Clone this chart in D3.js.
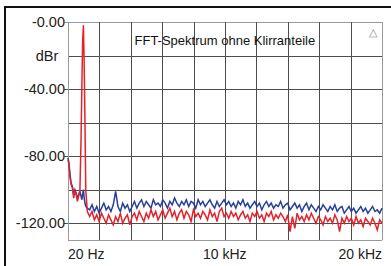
<!DOCTYPE html>
<html>
<head>
<meta charset="utf-8">
<script src="https://cdn.jsdelivr.net/npm/d3@7"></script>
<style>
  html, body { margin: 0; background: #fff; overflow: hidden; }
  svg { display: block; overflow: hidden; }
  text { font-family: "Liberation Sans", Arial, sans-serif; }
</style>
</head>
<body>
<div id="fft"></div>
<script>
// frequency points (Hz), shared by both channels
var freqHz = [20, 80, 150, 220, 300, 380, 460, 540, 620, 700, 780, 850, 900, 950, 1000, 1050, 1100, 1150, 1250,
  1400, 1550, 1700, 1850, 2000, 2150, 2300, 2450, 2600, 2750,
  2900, 3050, 3200, 3350, 3500, 3650, 3800, 3950, 4100, 4250,
  4400, 4550, 4700, 4850, 5000, 5150, 5300, 5450, 5600, 5750,
  5900, 6050, 6200, 6350, 6500, 6650, 6800, 6950, 7100, 7250,
  7400, 7550, 7700, 7850, 8000, 8150, 8300, 8450, 8600, 8750,
  8900, 9050, 9200, 9350, 9500, 9650, 9800, 9950, 10100, 10250,
  10400, 10550, 10700, 10850, 11000, 11150, 11300, 11450, 11600, 11750,
  11900, 12050, 12200, 12350, 12500, 12650, 12800, 12950, 13100, 13250,
  13400, 13550, 13700, 13850, 14000, 14150, 14300, 14450, 14600, 14750,
  14900, 15050, 15200, 15350, 15500, 15650, 15800, 15950, 16100, 16250,
  16400, 16550, 16700, 16850, 17000, 17150, 17300, 17450, 17600, 17750,
  17900, 18050, 18200, 18350, 18500, 18650, 18800, 18950, 19100, 19250,
  19400, 19550, 19700, 19850, 20000];

// blue channel (dBr)
var blueDb = [-81, -84, -91, -96, -98, -103, -100, -102, -105, -103, -101, -104, -106, -103, -100, -105, -108, -110, -111,
  -112, -109, -113, -110, -114, -111, -108, -112, -110, -113,
  -109, -101, -110, -113, -108, -111, -109, -113, -110, -107,
  -111, -108, -106, -110, -107, -109, -111, -106, -109, -108,
  -110, -106, -108, -111, -107, -109, -105, -108, -110, -107,
  -109, -106, -110, -107, -108, -111, -106, -109, -107, -110,
  -108, -106, -109, -111, -107, -110, -108, -106, -109, -107,
  -110, -108, -111, -107, -109, -106, -110, -108, -111, -109,
  -107, -110, -108, -112, -109, -107, -110, -108, -111, -109,
  -110, -107, -111, -109, -108, -112, -110, -108, -111, -109,
  -113, -110, -108, -112, -109, -111, -113, -110, -112, -109,
  -111, -113, -110, -112, -109, -113, -111, -110, -114, -112,
  -110, -113, -111, -114, -112, -110, -113, -111, -114, -112,
  -110, -113, -112, -114, -111];

// red channel (dBr), 1 kHz test tone
var redDb = [-82, -85, -93, -97, -99, -105, -101, -103, -107, -104, -100, -70, -40, -12, -2, -25, -60, -100, -113,
  -116, -113, -118, -115, -119, -114, -117, -120, -115, -118,
  -121, -116, -119, -114, -120, -117, -115, -121, -116, -114,
  -118, -113, -116, -119, -114, -117, -112, -116, -113, -118,
  -115, -112, -117, -114, -111, -116, -113, -118, -114, -112,
  -117, -113, -115, -119, -112, -116, -114, -117, -113, -115,
  -118, -112, -116, -114, -119, -113, -111, -116, -114, -117,
  -113, -116, -114, -118, -115, -113, -117, -115, -119, -114,
  -116, -113, -117, -115, -119, -114, -116, -113, -118, -115,
  -117, -114, -116, -119, -115, -125, -116, -123, -114, -118,
  -116, -119, -115, -118, -114, -117, -120, -116, -118, -121,
  -116, -119, -117, -120, -115, -118, -125, -117, -120, -116,
  -119, -117, -121, -116, -120, -118, -122, -117, -119, -121,
  -117, -120, -124, -118, -120];

var yGrid = [0, -20, -40, -60, -80, -100, -120];
var yLabels = ["-0.00", "", "-40.00", "", "-80.00", "", "-120.00"];
var yUnit = "dBr";
var xGrid = [20, 2018, 4016, 6014, 8012, 10010, 12008, 14006, 16004, 18002, 20000];
var xTicks = [20, 10000, 20000];
var xTickLabels = ["20 Hz", "10 kHz", "20 kHz"];
var title = "FFT-Spektrum ohne Klirranteile";

var W = 391, H = 266;
var margin = { top: 22, right: 9, bottom: 26, left: 68 },
    width = W - margin.left - margin.right,
    height = H - margin.top - margin.bottom;

var svg = d3.select("#fft").append("svg")
    .attr("width", W)
    .attr("height", H);

// outer black frame: only top and left edges are inside the picture
svg.append("path")
    .attr("d", "M5,266 L5,7 L391,7")
    .attr("fill", "none")
    .attr("stroke", "#111")
    .attr("stroke-width", 2);

var g = svg.append("g")
    .attr("transform", "translate(" + margin.left + "," + margin.top + ")");

var x = d3.scaleLinear().domain([20, 20000]).range([0, width]);
var y = d3.scaleLinear().domain([-130, 0]).range([height, 0]);

// grid
g.selectAll(".hgrid").data(yGrid).enter().append("line")
    .attr("x1", function (d, i) { return yLabels[i] ? -4 : 0; })
    .attr("x2", width)
    .attr("y1", function (d) { return Math.round(y(d)) + 0.5; })
    .attr("y2", function (d) { return Math.round(y(d)) + 0.5; })
    .attr("stroke", function (d) { return d === 0 ? "#999" : "#4d4d4d"; })
    .attr("stroke-width", 1);

g.selectAll(".vgrid").data(xGrid).enter().append("line")
    .attr("y1", 0).attr("y2", height)
    .attr("x1", function (d) { return Math.round(x(d)) + 0.5; })
    .attr("x2", function (d) { return Math.round(x(d)) + 0.5; })
    .attr("stroke", function (d, i) { return (i === 0 || i === xGrid.length - 1) ? "#999" : "#4d4d4d"; })
    .attr("stroke-width", 1);

g.append("line")
    .attr("x1", 0).attr("x2", width)
    .attr("y1", height + 0.5).attr("y2", height + 0.5)
    .attr("stroke", "#999");

// y labels
g.selectAll(".ylab").data(yGrid).enter().append("text")
    .attr("x", -3)
    .attr("y", function (d) { return y(d); })
    .attr("dy", "0.36em")
    .attr("text-anchor", "end")
    .style("font-size", "14.5px")
    .style("fill", "#222")
    .text(function (d, i) { return yLabels[i]; });

g.append("text")
    .attr("x", -21)
    .attr("y", y(-20))
    .attr("dy", "0.36em")
    .attr("text-anchor", "middle")
    .style("font-size", "14.5px")
    .style("fill", "#222")
    .text(yUnit);

// x labels
g.selectAll(".xlab").data(xTicks).enter().append("text")
    .attr("x", function (d) { return x(d); })
    .attr("y", height + 19)
    .attr("text-anchor", function (d, i) { return i === 0 ? "start" : (i === xTicks.length - 1 ? "end" : "middle"); })
    .style("font-size", "14px")
    .style("fill", "#222")
    .text(function (d, i) { return xTickLabels[i]; });

// title
g.append("text")
    .attr("x", x(10000))
    .attr("y", 23)
    .attr("text-anchor", "middle")
    .style("font-size", "13px")
    .style("fill", "#111")
    .text(title);

// small triangle marker top right
g.append("text")
    .attr("x", width - 9)
    .attr("y", 14)
    .attr("text-anchor", "middle")
    .style("font-size", "11px")
    .style("fill", "#888")
    .text("\u25B3");

var line = d3.line()
    .x(function (d) { return x(d[0]); })
    .y(function (d) { return y(d[1]); });

g.append("path")
    .datum(freqHz.map(function (f, i) { return [f, blueDb[i]]; }))
    .attr("fill", "none")
    .attr("stroke", "#27409a")
    .attr("stroke-width", 1.5)
    .attr("d", line);

g.append("path")
    .datum(freqHz.map(function (f, i) { return [f, redDb[i]]; }))
    .attr("fill", "none")
    .attr("stroke", "#e3232c")
    .attr("stroke-width", 1.5)
    .attr("d", line);
</script>
</body>
</html>
